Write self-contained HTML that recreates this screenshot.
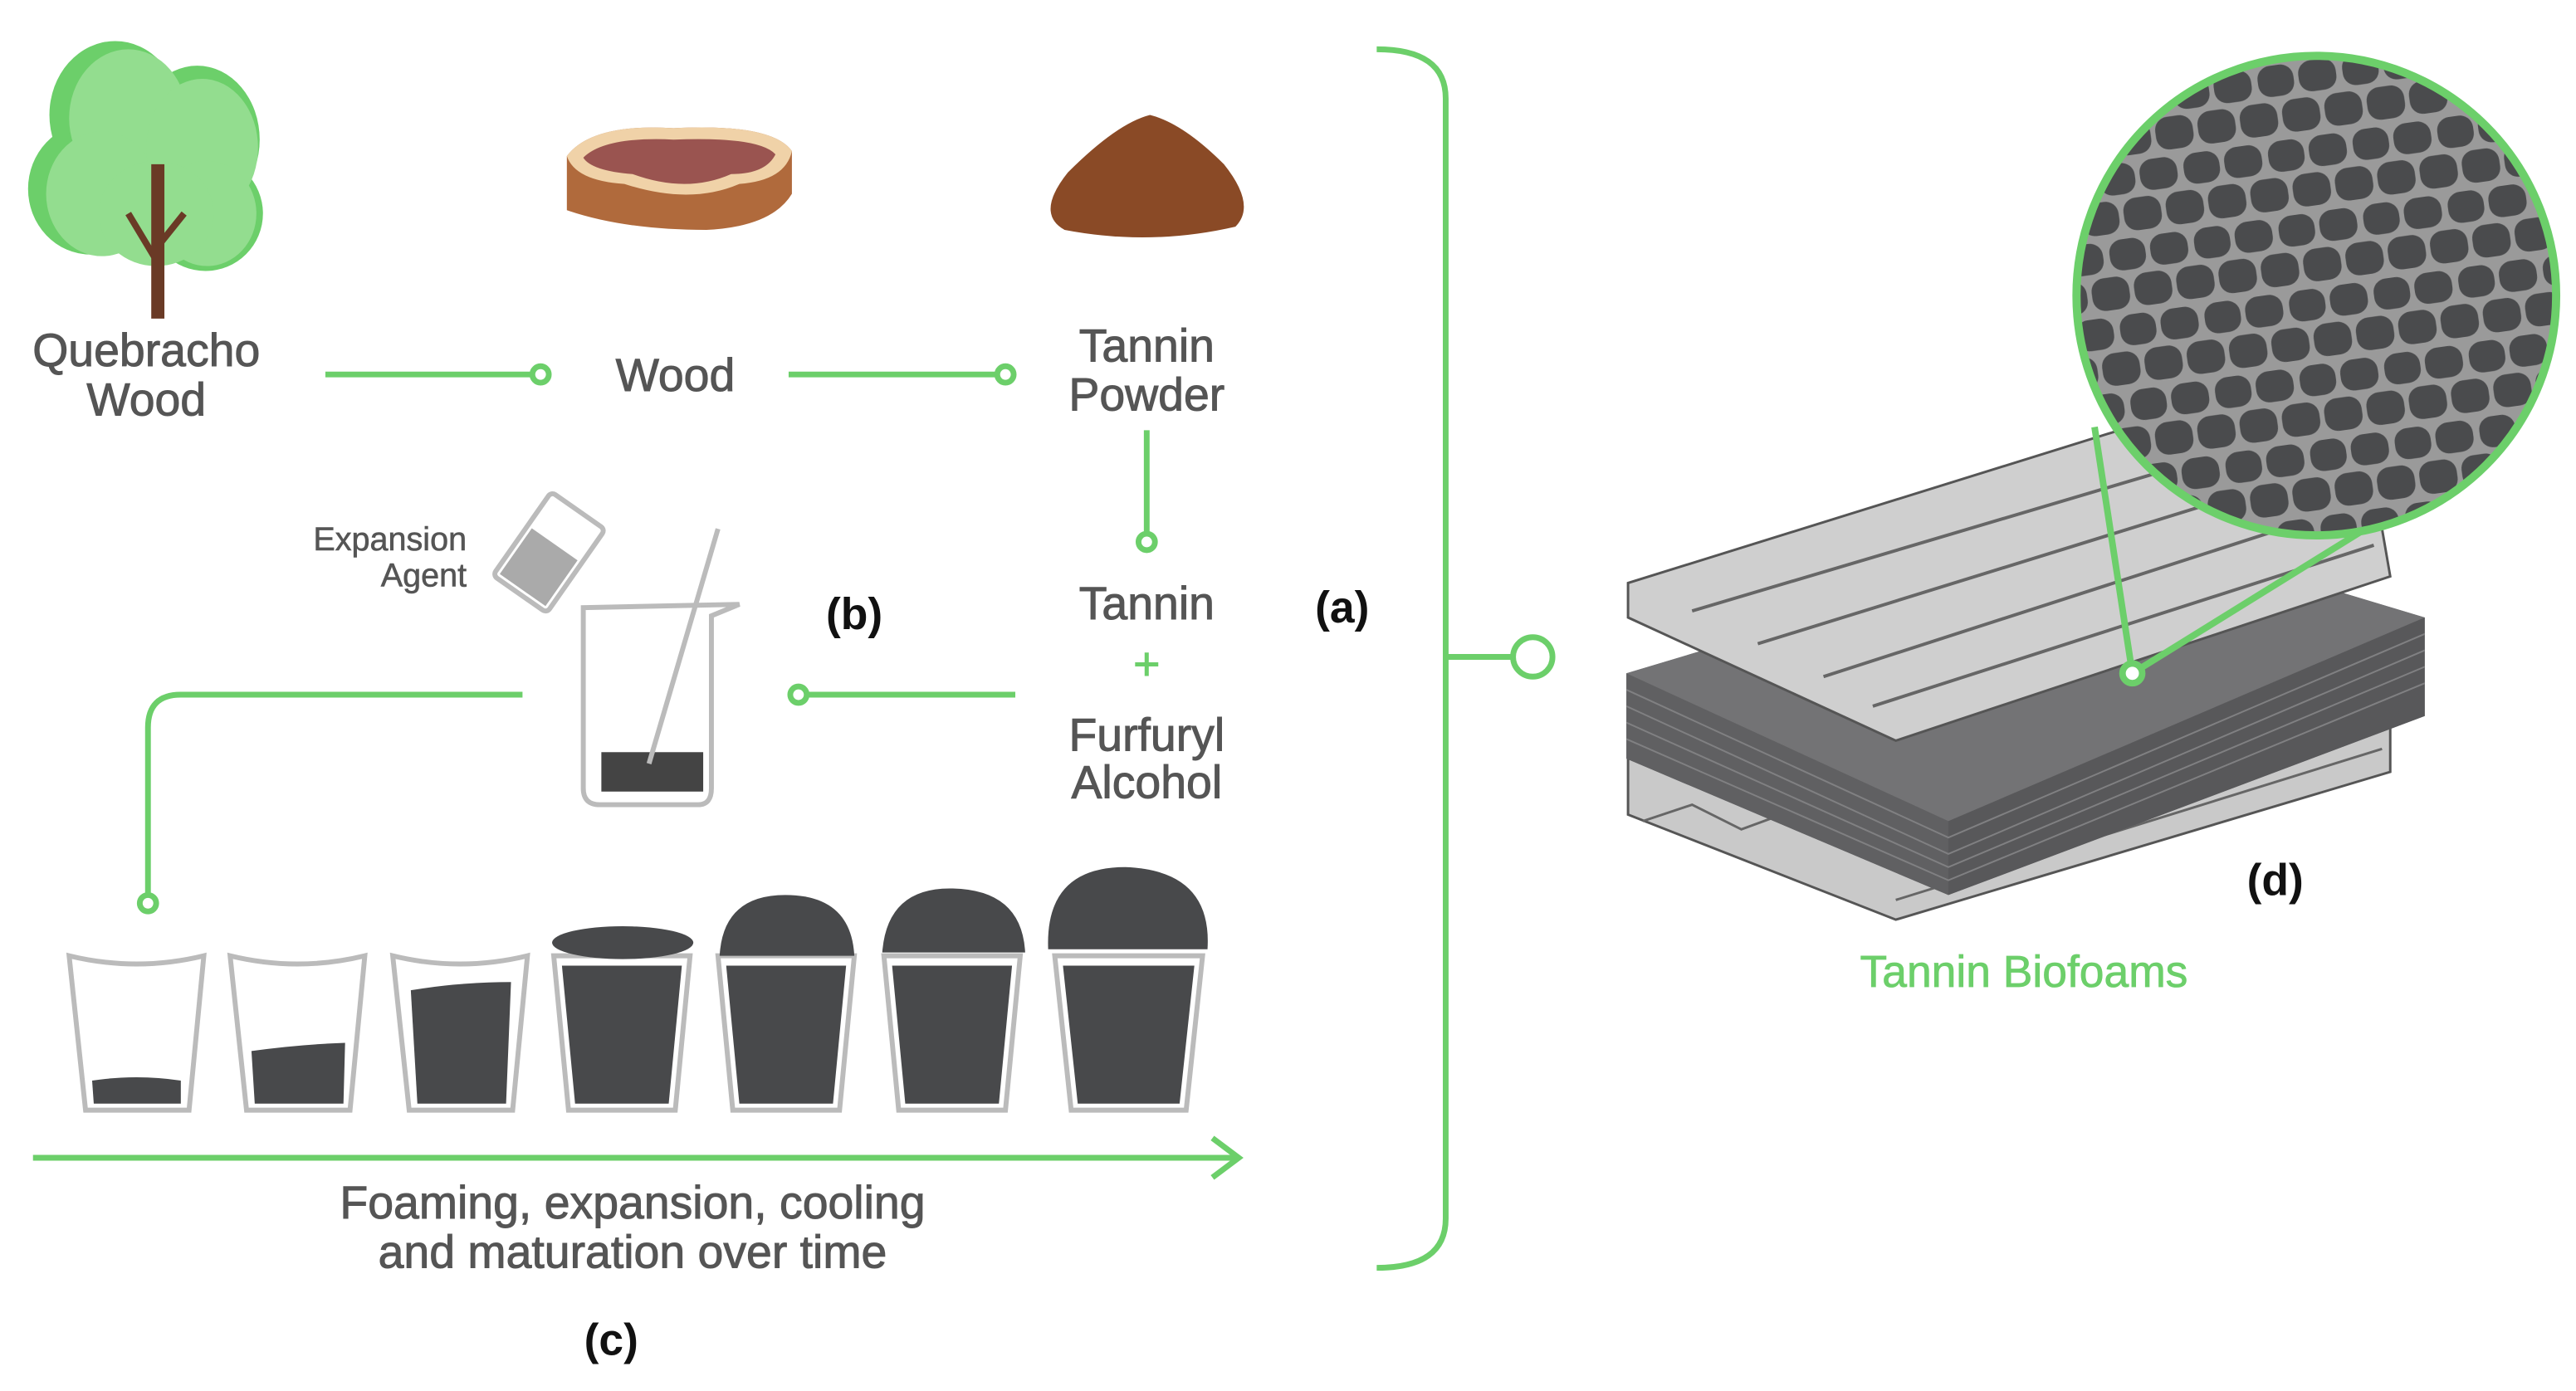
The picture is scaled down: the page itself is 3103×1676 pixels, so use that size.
<!DOCTYPE html>
<html><head><meta charset="utf-8"><style>
html,body{margin:0;padding:0;background:#fff;}
svg{display:block;}
text{font-family:"Liberation Sans",sans-serif;}
</style></head><body>
<svg width="3103" height="1676" viewBox="0 0 1568 847" xmlns="http://www.w3.org/2000/svg">
<defs>
<pattern id="cells" width="52" height="46" patternUnits="userSpaceOnUse" patternTransform="rotate(-8)">
<rect width="52" height="46" fill="#9a9a9a"/>
<rect x="2" y="2" width="22" height="19" rx="8" fill="#4a4b4d"/>
<rect x="27" y="2" width="23" height="19" rx="8" fill="#4a4b4d"/>
<rect x="-11" y="24" width="22" height="20" rx="8" fill="#4a4b4d"/>
<rect x="14" y="24" width="23" height="20" rx="8" fill="#4a4b4d"/>
<rect x="40" y="24" width="22" height="20" rx="8" fill="#4a4b4d"/>
</pattern>
<clipPath id="cc"><circle cx="1410" cy="180" r="146"/></clipPath>
</defs>
<rect width="1568" height="847" fill="#fff"/>

<!-- tree -->
<ellipse cx="70" cy="70" rx="40" ry="45" fill="#6ccf6a"/>
<ellipse cx="55" cy="115" rx="38" ry="40" fill="#6ccf6a"/>
<ellipse cx="120" cy="85" rx="38" ry="45" fill="#6ccf6a"/>
<ellipse cx="125" cy="130" rx="35" ry="35" fill="#6ccf6a"/>
<ellipse cx="78" cy="72" rx="36" ry="42" fill="#93dd8f"/>
<ellipse cx="62" cy="118" rx="34" ry="38" fill="#93dd8f"/>
<ellipse cx="123" cy="90" rx="34" ry="42" fill="#93dd8f"/>
<ellipse cx="126" cy="130" rx="30" ry="32" fill="#93dd8f"/>
<ellipse cx="95" cy="130" rx="35" ry="32" fill="#93dd8f"/>
<path d="M92 100 L92 194 L100 194 L100 100 Z" fill="#6a3a26"/>
<path d="M96 160 L78 130 M96 150 L112 130" stroke="#6a3a26" stroke-width="4"/>

<!-- wood slice -->
<path d="M345 95 Q360 75 410 78 Q470 75 482 92 L482 118 Q470 138 430 140 Q380 140 345 128 Z" fill="#b06a3c"/>
<path d="M345 95 Q360 75 410 78 Q470 75 482 92 Q478 110 450 112 Q420 125 380 112 Q350 110 345 95 Z" fill="#f0d2a8"/>
<path d="M355 96 Q368 83 410 85 Q462 83 472 94 Q466 106 445 106 Q418 118 385 106 Q360 104 355 96 Z" fill="#9a5450"/>

<!-- powder pile -->
<path d="M700 70 Q680 75 650 105 Q630 130 648 140 Q700 150 752 138 Q765 125 745 100 Q720 75 700 70 Z" fill="#8a4a26"/>

<!-- labels -->
<g fill="#555" stroke="#555" stroke-width="0.5" font-size="28" text-anchor="middle">
<text x="89" y="223">Quebracho</text><text x="89" y="253">Wood</text>
<text x="411" y="238">Wood</text>
<text x="698" y="220">Tannin</text><text x="698" y="250">Powder</text>
<text x="698" y="377">Tannin</text>
<text x="698" y="414" fill="#6ccf6a" stroke="#6ccf6a">+</text>
<text x="698" y="457">Furfuryl</text><text x="698" y="486">Alcohol</text>
<text x="385" y="742">Foaming, expansion, cooling</text>
<text x="385" y="772">and maturation over time</text>
</g>
<g fill="#555" stroke="#555" stroke-width="0.3" font-size="20" text-anchor="end">
<text x="284" y="335">Expansion</text><text x="284" y="357">Agent</text>
</g>
<g fill="#111" font-size="27" font-weight="bold" text-anchor="middle">
<text x="520" y="383">(b)</text>
<text x="817" y="379">(a)</text>
<text x="372" y="825">(c)</text>
<text x="1385" y="545">(d)</text>
</g>
<text x="1232" y="601" font-size="27" fill="#6ccf6a" stroke="#6ccf6a" stroke-width="0.4" text-anchor="middle">Tannin Biofoams</text>

<!-- connectors -->
<g stroke="#6ccf6a" stroke-width="3.5" fill="#fff">
<line x1="198" y1="228" x2="325" y2="228"/><circle cx="329" cy="228" r="5"/>
<line x1="480" y1="228" x2="608" y2="228"/><circle cx="612" cy="228" r="5"/>
<line x1="698" y1="262" x2="698" y2="325"/><circle cx="698" cy="330" r="5"/>
<line x1="618" y1="423" x2="491" y2="423"/><circle cx="486" cy="423" r="5"/>
<path d="M318 423 L110 423 Q90 423 90 443 L90 545" fill="none"/><circle cx="90" cy="550" r="5"/>
<line x1="20" y1="705" x2="752" y2="705"/>
<path d="M738 693 L754 705 L738 717" fill="none"/>
<path d="M838 30 Q880 30 880 60 L880 742 Q880 772 838 772" fill="none"/>
<line x1="880" y1="400" x2="921" y2="400"/><circle cx="933" cy="400" r="12"/>
</g>

<!-- small tilted beaker -->
<g transform="rotate(35 333 338)">
<rect x="313" y="305" width="40" height="62" rx="3" fill="#fff" stroke="#bbb" stroke-width="3"/>
<rect x="316" y="330" width="34" height="34" fill="#aaa"/>
</g>
<!-- beaker -->
<path d="M355 370 L355 480 Q355 490 365 490 L425 490 Q433 490 433 480 L433 375 L450 368 Z" fill="#fff" stroke="#bbb" stroke-width="3"/>
<rect x="366" y="458" width="62" height="24" fill="#444"/>
<line x1="437" y1="322" x2="395" y2="465" stroke="#bbb" stroke-width="3"/>

<!-- cups -->
<g stroke="#bbb" stroke-width="3">
<path d="M42 582 Q83 592 124 582 L115 676 L52 676 Z" fill="#fff"/>
<path d="M140 582 Q181 592 222 582 L213 676 L150 676 Z" fill="#fff"/>
<path d="M239 582 Q280 592 321 582 L312 676 L249 676 Z" fill="#fff"/>
<path d="M337 582 L420 582 L411 676 L346 676 Z" fill="#fff"/>
<path d="M437 582 L520 582 L511 676 L446 676 Z" fill="#fff"/>
<path d="M538 582 L621 582 L612 676 L547 676 Z" fill="#fff"/>
<path d="M642 582 L732 582 L722 676 L652 676 Z" fill="#fff"/>
</g>
<g fill="#48494b">
<path d="M56 658 Q83 654 110 658 L110 672 L57 672 Z"/>
<path d="M153 640 Q181 636 210 635 L209 672 L155 672 Z"/>
<path d="M250 603 Q280 598 311 598 L308 672 L254 672 Z"/>
<path d="M342 588 L415 588 L407 672 L350 672 Z"/><ellipse cx="379" cy="574" rx="43" ry="10"/>
<path d="M442 588 L515 588 L507 672 L450 672 Z"/><path d="M438 582 Q440 545 478 545 Q518 545 520 582 Z"/>
<path d="M543 588 L616 588 L608 672 L551 672 Z"/><path d="M537 580 Q540 540 580 541 Q622 542 624 580 Z"/>
<path d="M647 588 L727 588 L718 672 L656 672 Z"/><path d="M638 578 Q636 528 685 528 Q738 530 735 578 Z"/>
</g>

<!-- bottom sheet -->
<path d="M991 462 L1290 380 L1455 440 L1455 470 L1154 560 L991 496 Z" fill="#c9c9c9" stroke="#555" stroke-width="1.5"/>
<g stroke="#666" stroke-width="1.5" fill="none">
<path d="M1000 500 L1030 490 L1060 505 L1090 494 L1120 510"/>
<line x1="1154" y1="548" x2="1450" y2="456"/>
</g>
<!-- block -->
<path d="M990 410 L1290 320 L1476 376 L1476 436 L1186 545 L990 462 Z" fill="#6a6a6c"/>
<path d="M990 410 L1290 320 L1476 376 L1186 500 Z" fill="#737375"/>
<path d="M990 410 L1186 500 L1186 545 L990 462 Z" fill="#606062"/>
<path d="M1186 500 L1476 376 L1476 436 L1186 545 Z" fill="#58585a"/>
<g stroke="#808082" stroke-width="1" fill="none">
<path d="M990 420 L1186 510 L1476 386"/><path d="M990 430 L1186 520 L1476 396"/>
<path d="M990 440 L1186 528 L1476 406"/><path d="M990 450 L1186 536 L1476 416"/>
</g>
<!-- top sheet -->
<path d="M991 355 L1290 262 L1450 322 L1455 351 L1154 451 L991 376 Z" fill="#cfcfcf" stroke="#555" stroke-width="1.5"/>
<g stroke="#666" stroke-width="2" fill="none">
<line x1="1030" y1="372" x2="1340" y2="280"/>
<line x1="1070" y1="392" x2="1380" y2="296"/>
<line x1="1110" y1="412" x2="1420" y2="312"/>
<line x1="1140" y1="430" x2="1445" y2="332"/>
</g>
<!-- magnifier -->
<g stroke="#6ccf6a" stroke-width="4"><line x1="1298" y1="410" x2="1275" y2="260"/><line x1="1298" y1="410" x2="1440" y2="322"/></g>
<circle cx="1410" cy="180" r="146" fill="url(#cells)" clip-path="url(#cc)"/>
<circle cx="1410" cy="180" r="146" fill="none" stroke="#6ccf6a" stroke-width="5"/>
<circle cx="1298" cy="410" r="6" fill="#fff" stroke="#6ccf6a" stroke-width="4"/>
</svg>
</body></html>
